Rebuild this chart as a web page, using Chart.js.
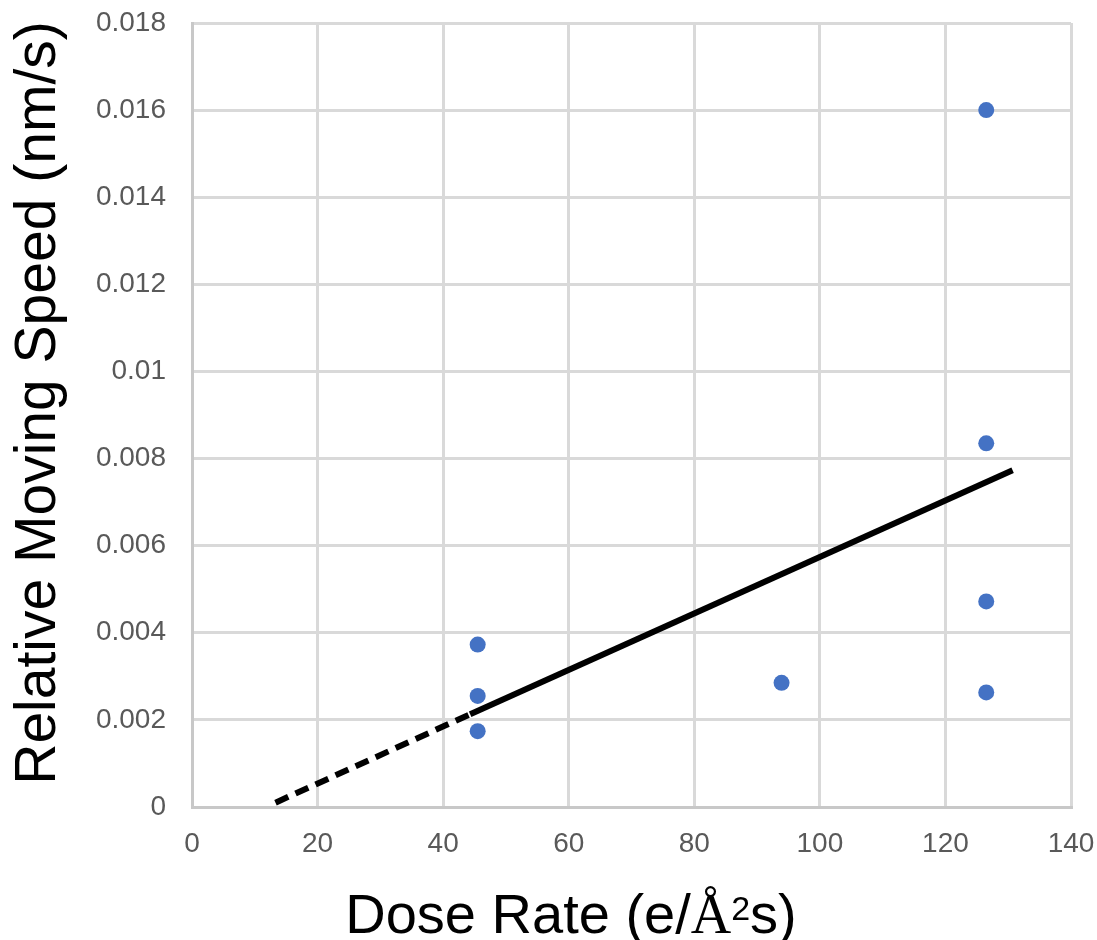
<!DOCTYPE html>
<html>
<head>
  <meta charset="utf-8">
  <title>Dose Rate vs Relative Moving Speed</title>
  <script src="https://cdn.jsdelivr.net/npm/chart.js"></script>
  <style>
    body { margin: 0; background: #fff; }
  </style>
</head>
<body>
<canvas id="chart" width="1097" height="940"></canvas>

<script>
// measured points
const doseRate = [45.5, 45.5, 45.5, 93.9, 126.5, 126.5, 126.5, 126.5];
const movingSpeed = [0.00373, 0.00255, 0.00174, 0.00285, 0.0160, 0.00835, 0.00472, 0.00263];

// trend line (solid part) and its backward extension (dashed)
const trendX = [44.3, 130.7];
const trendY = [0.00213, 0.00773];
const extendX = [13.3, 44.3];
const extendY = [0.0001, 0.00213];

const xTicks = [0, 20, 40, 60, 80, 100, 120, 140];
const yTicks = [0, 0.002, 0.004, 0.006, 0.008, 0.01, 0.012, 0.014, 0.016, 0.018];

const toXY = (xs, ys) => xs.map((x, i) => ({ x: x, y: ys[i] }));

// axis titles are drawn by hand so they sit where the original puts them
const axisTitles = {
  id: "axisTitles",
  afterDraw(chart) {
    const ctx = chart.ctx;
    ctx.save();
    ctx.fillStyle = "#000";
    ctx.textBaseline = "alphabetic";

    // x title with superscript 2 and serif Å
    const parts = [
      { t: "Dose Rate (e/", f: "56px 'Liberation Sans'", dy: 0 },
      { t: "Å", f: "56px 'Liberation Serif'", dy: 0 },
      { t: "2", f: "34px 'Liberation Sans'", dy: -13 },
      { t: "s)", f: "56px 'Liberation Sans'", dy: 0 }
    ];
    let total = 0;
    parts.forEach(p => { ctx.font = p.f; p.w = ctx.measureText(p.t).width; total += p.w; });
    let x = 571 - total / 2;
    ctx.textAlign = "left";
    parts.forEach(p => {
      ctx.font = p.f;
      ctx.fillText(p.t, x, 933 + p.dy);
      x += p.w;
    });

    // y title
    ctx.translate(55, 403);
    ctx.rotate(-Math.PI / 2);
    ctx.font = "57px 'Liberation Sans'";
    ctx.textAlign = "center";
    ctx.fillText("Relative Moving Speed (nm/s)", 0, 0);
    ctx.restore();
  }
};

new Chart(document.getElementById("chart"), {
  type: "scatter",
  data: {
    datasets: [
      {
        data: toXY(trendX, trendY),
        showLine: true,
        borderColor: "#000",
        borderWidth: 6,
        pointRadius: 0,
        borderCapStyle: "butt"
      },
      {
        data: toXY(extendX, extendY),
        showLine: true,
        borderColor: "#000",
        borderWidth: 6,
        borderDash: [14, 8],
        pointRadius: 0,
        borderCapStyle: "butt"
      },
      {
        data: toXY(doseRate, movingSpeed),
        backgroundColor: "#4472c4",
        borderWidth: 0,
        pointRadius: 8
      }
    ]
  },
  options: {
    responsive: false,
    animation: false,
    layout: { padding: { left: 0, top: 23, right: 26, bottom: 0 } },
    plugins: {
      legend: { display: false },
      tooltip: { enabled: false }
    },
    scales: {
      x: {
        type: "linear",
        min: 0,
        max: 140,
        afterBuildTicks: s => { s.ticks = xTicks.map(v => ({ value: v })); },
        afterFit: s => {
          s.height = 133;
          s.paddingLeft = 0;
          s.paddingRight = 0;
        },
        grid: { color: "#d9d9d9", lineWidth: 3, drawTicks: false },
        border: { color: "#c8c8c8", width: 3 },
        ticks: {
          padding: 20,
          color: "#595959",
          font: { family: "'Liberation Sans'", size: 28 }
        }
      },
      y: {
        type: "linear",
        min: 0,
        max: 0.018,
        afterBuildTicks: s => { s.ticks = yTicks.map(v => ({ value: v })); },
        afterFit: s => {
          s.width = 192;
          s.paddingTop = 0;
          s.paddingBottom = 0;
        },
        grid: { color: "#d9d9d9", lineWidth: 3, drawTicks: false },
        border: { color: "#c8c8c8", width: 3 },
        ticks: {
          padding: 26,
          color: "#595959",
          font: { family: "'Liberation Sans'", size: 28 },
          callback: v => String(parseFloat(v.toFixed(3)))
        }
      }
    }
  },
  plugins: [axisTitles]
});
</script>
</body>
</html>
